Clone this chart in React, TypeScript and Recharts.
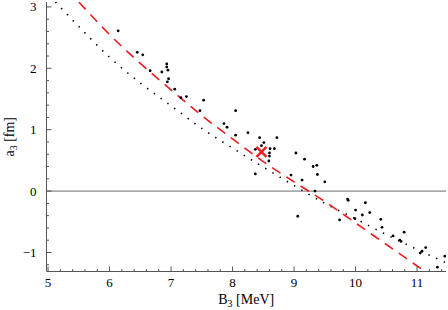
import { ComposedChart, Line, Scatter, XAxis, YAxis, ReferenceLine } from 'recharts'

// B3 [MeV], a3 [fm] pairs
const samplePoints: [number, number][] = [
  [6.14, 2.61], [6.45, 2.26], [6.54, 2.22], [6.66, 1.96], [6.85, 1.94],
  [6.93, 2.07], [6.93, 2.02], [6.95, 1.97], [6.96, 1.83], [6.94, 1.78],
  [7.06, 1.66], [7.16, 1.52], [7.25, 1.54], [7.53, 1.48], [7.47, 1.31],
  [7.86, 1.1], [7.91, 1.04], [8.05, 1.31], [8.05, 0.91], [8.25, 0.95],
  [8.44, 0.87], [8.51, 0.79], [8.47, 0.74], [8.37, 0.68], [8.61, 0.69],
  [8.68, 0.69], [8.72, 0.87], [8.6, 0.62], [8.6, 0.57], [8.59, 0.49],
  [8.37, 0.28], [9.03, 0.62], [9.17, 0.52], [9.31, 0.4], [9.37, 0.42],
  [9.38, 0.27], [9.5, 0.15], [9.13, 0.18], [8.95, 0.26], [9.34, 0.0],
  [9.06, -0.41], [9.88, -0.15], [9.87, -0.13], [10.0, -0.31], [10.16, -0.19],
  [10.23, -0.35], [10.11, -0.39], [9.74, -0.47], [9.99, -0.45], [10.41, -0.46],
  [10.43, -0.59], [10.61, -0.73], [10.72, -0.8], [10.74, -0.82], [10.79, -0.67],
  [11.14, -0.92], [11.05, -1.01], [11.08, -0.98], [11.45, -1.06], [11.33, -1.24],
  [11.5, -1.2],
]

const dashedB = [5.5, 6.0, 6.5, 7.0, 7.5, 8.0, 8.5, 9.0, 9.5, 10.0, 10.5, 11.0, 11.3]
const dashedA = [3.08, 2.55, 2.08, 1.65, 1.23, 0.85, 0.48, 0.15, -0.17, -0.52, -0.87, -1.22, -1.43]

const dottedB = [5.12, 5.5, 6.0, 6.5, 7.0, 7.5, 8.0, 8.5, 9.0, 9.5, 10.0, 10.5, 11.0, 11.5]
const dottedA = [3.08, 2.68, 2.18, 1.76, 1.39, 1.02, 0.7, 0.39, 0.09, -0.2, -0.45, -0.71, -0.95, -1.18]

const bestFit = [{ x: 8.47, y: 0.64 }]

const xTicks = [
  5, 5.2, 5.4, 5.6, 5.8, 6, 6.2, 6.4, 6.6, 6.8, 7, 7.2, 7.4, 7.6, 7.8,
  8, 8.2, 8.4, 8.6, 8.8, 9, 9.2, 9.4, 9.6, 9.8, 10, 10.2, 10.4, 10.6, 10.8,
  11, 11.2, 11.4,
]
const yTicks = [
  -1.2, -1, -0.8, -0.6, -0.4, -0.2, 0, 0.2, 0.4, 0.6, 0.8, 1, 1.2, 1.4,
  1.6, 1.8, 2, 2.2, 2.4, 2.6, 2.8, 3,
]

const scatterData = samplePoints.map(([x, y]) => ({ x, y }))
const dashedData = dashedB.map((x, i) => ({ x, y: dashedA[i] }))
const dottedData = dottedB.map((x, i) => ({ x, y: dottedA[i] }))

const FRAME = '#555'
const FONT = '"Liberation Serif", "Times New Roman", serif'
const RED = '#ee1d1d'

const isMajor = (v: number) => Math.abs(v - Math.round(v)) < 1e-6
const fmt = (v: number) => (v < 0 ? '\u2212' + Math.abs(Math.round(v)) : String(Math.round(v)))

const BottomTick = ({ x, y, payload }: any) => {
  const major = isMajor(payload.value)
  return (
    <g>
      <line x1={x} x2={x} y1={y} y2={y - (major ? 5 : 2.5)} stroke={FRAME} />
      {major && (
        <text x={x} y={y + 15} textAnchor="middle" fontFamily={FONT} fontSize={13} fill="#000">
          {fmt(payload.value)}
        </text>
      )}
    </g>
  )
}

const TopTick = ({ x, y, payload }: any) => (
  <line x1={x} x2={x} y1={y} y2={y + (isMajor(payload.value) ? 5 : 2.5)} stroke={FRAME} />
)

const LeftTick = ({ x, y, payload }: any) => {
  const major = isMajor(payload.value)
  return (
    <g>
      <line x1={x} x2={x + (major ? 5 : 2.5)} y1={y} y2={y} stroke={FRAME} />
      {major && (
        <text x={x - 10} y={y + 4.5} textAnchor="end" fontFamily={FONT} fontSize={13} fill="#000">
          {fmt(payload.value)}
        </text>
      )}
    </g>
  )
}

const RightTick = ({ x, y, payload }: any) => (
  <line x1={x} x2={x - (isMajor(payload.value) ? 5 : 2.5)} y1={y} y2={y} stroke={FRAME} />
)

const Dot = ({ cx, cy }: any) => <circle cx={cx} cy={cy} r={1.4} fill="#000" />

const Cross = ({ cx, cy }: any) => (
  <g stroke={RED} strokeWidth={2.4}>
    <line x1={cx - 5} y1={cy - 5} x2={cx + 5} y2={cy + 5} />
    <line x1={cx - 5} y1={cy + 5} x2={cx + 5} y2={cy - 5} />
  </g>
)

const XTitle = ({ viewBox }: any) => (
  <text x={viewBox.x + viewBox.width / 2} y={viewBox.y + 32} textAnchor="middle" fontFamily={FONT} fontSize={14} fill="#000">
    B<tspan fontSize={10} dy={3}>3</tspan>
    <tspan dy={-3}> [MeV]</tspan>
  </text>
)

const YTitle = ({ viewBox }: any) => {
  const cx = 14
  const cy = viewBox.y + viewBox.height / 2
  return (
    <text x={cx} y={cy} transform={`rotate(-90 ${cx} ${cy})`} textAnchor="middle" fontFamily={FONT} fontSize={14} fill="#000">
      a<tspan fontSize={10} dy={3}>3</tspan>
      <tspan dy={-3}> [fm]</tspan>
    </text>
  )
}

export default function App() {
  return (
    <div style={{ position: 'absolute', left: 0, top: 0 }}>
      <ComposedChart width={448} height={310} margin={{ top: 2, right: 2, bottom: 0, left: 0 }}>
        <XAxis
          xAxisId="b" dataKey="x" type="number" domain={[4.975, 11.47]} allowDataOverflow
          ticks={xTicks} interval={0} tickSize={0} tickMargin={0} tick={<BottomTick />}
          axisLine={{ stroke: FRAME }} height={38.5} label={<XTitle />}
        />
        <XAxis
          xAxisId="t" orientation="top" dataKey="x" type="number" domain={[4.975, 11.47]} allowDataOverflow
          ticks={xTicks} interval={0} tickSize={0} tickMargin={0} tick={<TopTick />}
          axisLine={{ stroke: FRAME }} height={0}
        />
        <YAxis
          yAxisId="l" type="number" domain={[-1.31, 3.08]} allowDataOverflow
          ticks={yTicks} interval={0} tickSize={0} tickMargin={0} tick={<LeftTick />}
          axisLine={{ stroke: FRAME }} width={46.5} label={<YTitle />}
        />
        <YAxis
          yAxisId="r" orientation="right" type="number" domain={[-1.31, 3.08]} allowDataOverflow
          ticks={yTicks} interval={0} tickSize={0} tickMargin={0} tick={<RightTick />}
          axisLine={{ stroke: FRAME }} width={0}
        />
        <ReferenceLine xAxisId="b" yAxisId="l" y={0} stroke="#8a8a8a" strokeWidth={1.2} />
        <Line
          xAxisId="b" yAxisId="l" data={dottedData} dataKey="y" type="monotone"
          stroke="#000" strokeWidth={1.6} strokeDasharray="1.4 7" dot={false} isAnimationActive={false}
        />
        <Line
          xAxisId="b" yAxisId="l" data={dashedData} dataKey="y" type="monotone"
          stroke={RED} strokeWidth={1.6} strokeDasharray="10 7" dot={false} isAnimationActive={false}
        />
        <Scatter xAxisId="b" yAxisId="l" data={scatterData} dataKey="y" shape={<Dot />} isAnimationActive={false} />
        <Scatter xAxisId="b" yAxisId="l" data={bestFit} dataKey="y" shape={<Cross />} isAnimationActive={false} />
        {/* dummy series keeping the top/right frame axes scaled */}
        <Line xAxisId="t" yAxisId="r" data={dottedData} dataKey="y" stroke="none" dot={false} isAnimationActive={false} />
      </ComposedChart>
    </div>
  )
}
